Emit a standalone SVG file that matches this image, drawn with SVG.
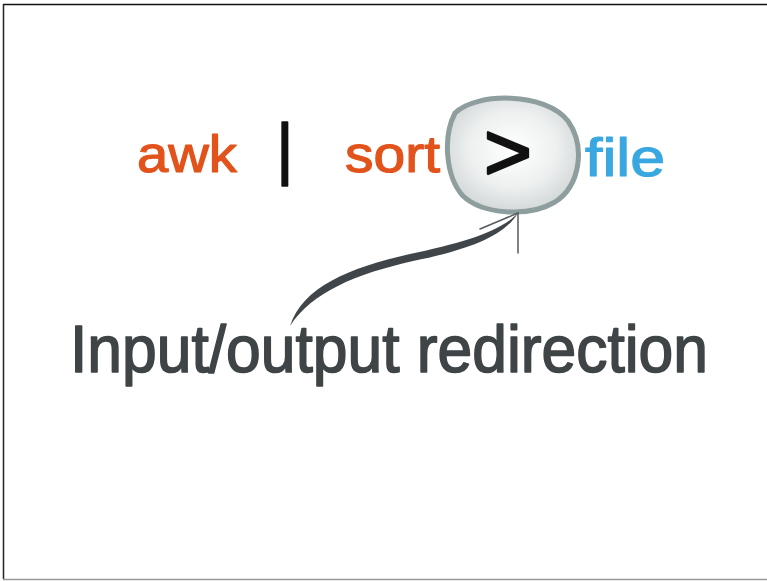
<svg xmlns="http://www.w3.org/2000/svg" width="767" height="581" viewBox="0 0 767 581">
<defs>
<radialGradient id="bubble" cx="0.5" cy="0.45" r="0.55">
<stop offset="0" stop-color="#ffffff"/>
<stop offset="0.6" stop-color="#eef0f0"/>
<stop offset="1" stop-color="#d3d8d9"/>
</radialGradient>
<style>
.hand{font-family:"Liberation Sans","Noto Sans",sans-serif;stroke-linejoin:round;}
.cmd{fill:#e2531c;stroke:#e2531c;stroke-width:1.2;font-size:52px;}
.file{fill:#3aa8e0;stroke:#3aa8e0;stroke-width:1.2;font-size:54px;}
.label{fill:#3f4447;stroke:#3f4447;stroke-width:1.6;font-size:66px;}
.head{stroke:#555b5e;stroke-width:1.5;fill:none;stroke-linecap:round;}
</style>
</defs>
<rect x="0" y="0" width="767" height="581" fill="#ffffff"/>
<line x1="3" y1="4.5" x2="767" y2="4.5" stroke="#111" stroke-width="1.5"/>
<line x1="3.5" y1="4" x2="3.5" y2="579" stroke="#222" stroke-width="1.5"/>
<line x1="3" y1="579.5" x2="767" y2="579.5" stroke="#999" stroke-width="1.5"/>

<g id="awk"><text class="hand cmd" x="137" y="172" textLength="100" lengthAdjust="spacingAndGlyphs">awk</text></g>
<g id="pipe"><text class="hand" x="276" y="172" font-size="68" fill="#111" stroke="#111" stroke-width="1.5">|</text></g>
<g id="sort"><text class="hand cmd" x="345" y="172" textLength="95" lengthAdjust="spacingAndGlyphs">sort</text></g>
<g id="redirect">
<path d="M455,113 C476,92 546,92 568,121 C586,147 580,186 555,202 C528,218 482,214 463,196 C445,176 443,136 455,113 Z" fill="url(#bubble)" stroke="#8e9d9e" stroke-width="5"/>
<text class="hand" x="484" y="180" font-size="82" fill="#111" stroke="#111" stroke-width="2.5">&gt;</text>
</g>
<g id="file"><text class="hand file" x="585" y="176" textLength="80" lengthAdjust="spacingAndGlyphs">file</text></g>

<g id="connectors">
<path d="M290,326 C303,287 348,268 410,254 C462,243 500,232 518,213 C503,238 463,251 413,261 C356,274 312,292 290,326 Z" fill="#3f4548"/>
<path class="head" d="M480,229 L518,213 L518,253"/>
</g>

<g id="caption"><text class="hand label" x="70" y="372" textLength="638" lengthAdjust="spacingAndGlyphs">Input/output redirection</text></g>
</svg>
